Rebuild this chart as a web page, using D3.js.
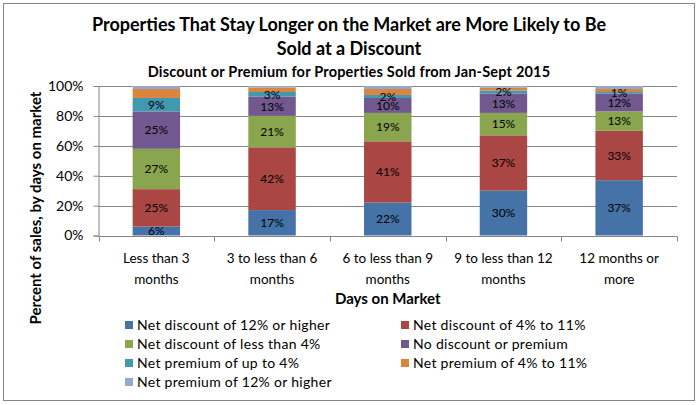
<!DOCTYPE html>
<html>
<head>
<meta charset="utf-8">
<script src="https://cdn.jsdelivr.net/npm/d3@7"></script>
<style>
  body { margin: 0; background: #fff; }
  svg text { font-family: Lato, "Open Sans", sans-serif; fill: #000; }
</style>
</head>
<body>
<svg id="chart"></svg>
<script>
const width = 698;
const height = 405;
const padding = { left: 98.5, right: 21, top: 86, down: 170 };

// categories (two label lines each)
const categories = ['Less than 3 months', '3 to less than 6 months', '6 to less than 9 months', '9 to less than 12 months', '12 months or more'];
const categoryLines = [['Less than 3', 'months'], ['3 to less than 6', 'months'], ['6 to less than 9', 'months'], ['9 to less than 12', 'months'], ['12 months or', 'more']];

const seriesNames = ['Net discount of 12% or higher', 'Net discount of 4% to 11%', 'Net discount of less than 4%', 'No discount or premium', 'Net premium of up to 4%', 'Net premium of 4% to 11%', 'Net premium of 12% or higher'];
const seriesColors = ['#4572A7', '#AA4643', '#89A54E', '#71588F', '#4198AF', '#DB843D', '#93A9CF'];

// percent values per series, one per category
const discount12 = [6, 17, 22, 30, 37];
const discount4to11 = [25, 42, 41, 37, 33];
const discountLess4 = [27, 21, 19, 15, 13];
const noDiscount = [25, 13, 10, 13, 12];
const premiumUpTo4 = [9, 3, 2, 2, 1];
const premium4to11 = [6, 3, 4, 2, 2];
const premium12 = [2, 1, 2, 1, 2];
const seriesValues = [discount12, discount4to11, discountLess4, noDiscount, premiumUpTo4, premium4to11, premium12];
// which series carry data labels
const labelled = [true, true, true, true, true, false, false];

const yTicks = [0, 20, 40, 60, 80, 100];

const rows = categories.map((c, i) => {
  const r = { category: c };
  seriesNames.forEach((s, j) => { r[s] = seriesValues[j][i]; });
  return r;
});

const svg = d3.select('#chart')
  .attr('width', width)
  .attr('height', height);

// outer chart border
svg.append('rect')
  .attr('x', 3.5).attr('y', 3.5)
  .attr('width', 691).attr('height', 397)
  .attr('fill', '#fff')
  .attr('stroke', '#868686');

// titles
svg.append('text')
  .attr('x', 349).attr('y', 31)
  .attr('text-anchor', 'middle')
  .style('font-size', '18px').style('font-weight', 'bold')
  .text('Properties That Stay Longer on the Market are More Likely to Be');
svg.append('text')
  .attr('x', 349).attr('y', 55)
  .attr('text-anchor', 'middle')
  .style('font-size', '18px').style('font-weight', 'bold')
  .text('Sold at a Discount');
svg.append('text')
  .attr('x', 349).attr('y', 77)
  .attr('text-anchor', 'middle')
  .style('font-size', '14.5px').style('font-weight', 'bold')
  .style('letter-spacing', '0.2px')
  .text('Discount or Premium for Properties Sold from Jan-Sept 2015');

const xScale = d3.scaleBand()
  .domain(categories)
  .range([padding.left, width - padding.right])
  .paddingInner(0.59)
  .paddingOuter(0.295);

const yScale = d3.scaleLinear()
  .domain([0, 100])
  .range([height - padding.down + 0.5, padding.top]);

// gridlines
svg.append('g')
  .selectAll('line')
  .data(yTicks.filter(t => t > 0))
  .join('line')
  .attr('x1', padding.left)
  .attr('x2', width - padding.right)
  .attr('y1', d => Math.round(yScale(d)) + 0.5)
  .attr('y2', d => Math.round(yScale(d)) + 0.5)
  .attr('stroke', '#868686');

// stacked bars
const stack = d3.stack().keys(seriesNames);
const stacked = stack(rows);

const layers = svg.append('g')
  .selectAll('g')
  .data(stacked)
  .join('g')
  .attr('fill', (d, i) => seriesColors[i]);

layers.selectAll('rect')
  .data(d => d)
  .join('rect')
  .attr('x', d => xScale(d.data.category))
  .attr('width', xScale.bandwidth())
  .attr('y', d => yScale(d[1]))
  .attr('height', d => yScale(d[0]) - yScale(d[1]));

// data labels
stacked.forEach((layer, i) => {
  if (!labelled[i]) return;
  svg.append('g')
    .selectAll('text')
    .data(layer)
    .join('text')
    .attr('x', d => xScale(d.data.category) + xScale.bandwidth() / 2)
    .attr('y', d => (yScale(d[0]) + yScale(d[1])) / 2)
    .attr('dy', '0.36em')
    .attr('text-anchor', 'middle')
    .style('font-size', '12px')
    .text(d => (d[1] - d[0]) + '%');
});

// y axis
const yAxis = d3.axisLeft(yScale)
  .tickValues(yTicks)
  .tickFormat(d => d + '%')
  .tickSize(5)
  .tickPadding(10);

const yAxisG = svg.append('g')
  .attr('transform', `translate(${padding.left}, 0)`)
  .call(yAxis);
yAxisG.select('.domain').attr('stroke', '#868686');
yAxisG.selectAll('.tick line').attr('stroke', '#868686');
yAxisG.selectAll('.tick text').style('font-size', '14px').style('font-family', 'Lato, sans-serif').attr('fill', '#000');

// x axis line with ticks at band boundaries
const xBase = Math.round(yScale(0)) + 0.5;
const step = xScale.step();
const bounds = d3.range(categories.length + 1).map(i => padding.left + i * step);
svg.append('line')
  .attr('x1', padding.left).attr('x2', width - padding.right)
  .attr('y1', xBase).attr('y2', xBase)
  .attr('stroke', '#868686');
svg.append('g')
  .selectAll('line')
  .data(bounds)
  .join('line')
  .attr('x1', d => Math.round(d) + 0.5).attr('x2', d => Math.round(d) + 0.5)
  .attr('y1', xBase).attr('y2', xBase + 5)
  .attr('stroke', '#868686');

// category labels
const catG = svg.append('g')
  .selectAll('text')
  .data(categories)
  .join('text')
  .attr('x', d => xScale(d) + xScale.bandwidth() / 2)
  .attr('y', 263)
  .attr('text-anchor', 'middle')
  .style('font-size', '13.5px');
catG.each(function (d, i) {
  const t = d3.select(this);
  categoryLines[i].forEach((line, k) => {
    t.append('tspan')
      .attr('x', xScale(d) + xScale.bandwidth() / 2)
      .attr('dy', k === 0 ? 0 : 21)
      .text(line);
  });
});

// x axis title
svg.append('text')
  .attr('x', (padding.left + width - padding.right) / 2)
  .attr('y', 304)
  .attr('text-anchor', 'middle')
  .style('font-size', '15px').style('font-weight', 'bold')
  .text('Days on Market');

// y axis title
svg.append('text')
  .attr('text-anchor', 'middle')
  .attr('transform', `translate(41, 208) rotate(-90)`)
  .style('font-size', '15px').style('font-weight', 'bold')
  .text('Percent of sales, by days on market');

// legend
const legend = svg.append('g')
  .selectAll('g')
  .data(seriesNames)
  .join('g')
  .attr('transform', (d, i) => `translate(${i % 2 === 0 ? 125 : 401}, ${325 + Math.floor(i / 2) * 19})`);
legend.append('rect')
  .attr('x', 0).attr('y', -4)
  .attr('width', 8).attr('height', 8)
  .attr('fill', (d, i) => seriesColors[i]);
legend.append('text')
  .attr('x', 12)
  .attr('dy', '0.36em')
  .style('font-size', '14px')
  .style('letter-spacing', '0.3px')
  .text(d => d);
</script>
</body>
</html>
